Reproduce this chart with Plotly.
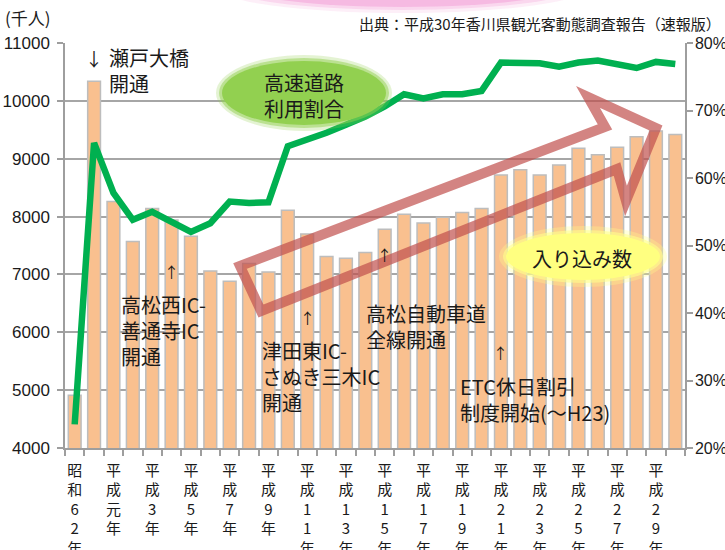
import plotly.graph_objects as go

# ---------------- data ----------------
years = ["昭和62年", "昭和63年", "平成元年", "平成2年", "平成3年", "平成4年", "平成5年", "平成6年",
         "平成7年", "平成8年", "平成9年", "平成10年", "平成11年", "平成12年", "平成13年", "平成14年",
         "平成15年", "平成16年", "平成17年", "平成18年", "平成19年", "平成20年", "平成21年", "平成22年",
         "平成23年", "平成24年", "平成25年", "平成26年", "平成27年", "平成28年", "平成29年", "平成30年"]
visitors = [4910, 10340, 8260, 7570, 8140, 7940, 7660, 7060,
            6880, 7190, 7040, 8110, 7700, 7310, 7280, 7380,
            7780, 8040, 7890, 7990, 8070, 8140, 8720, 8810,
            8720, 8890, 9180, 9070, 9200, 9380, 9480, 9420]
highway_ratio = [23.5, 65.2, 57.8, 53.8, 55.0, 53.6, 52.0, 53.3,
                 56.5, 56.3, 56.4, 64.7, 65.6, 66.7, 67.9, 69.1,
                 70.6, 72.4, 71.8, 72.4, 72.4, 72.9, 77.1, 77.1,
                 77.0, 76.5, 77.1, 77.4, 76.9, 76.3, 77.2, 76.9]
y_left_ticks = [4000, 5000, 6000, 7000, 8000, 9000, 10000, 11000]
y_right_ticks = [20, 30, 40, 50, 60, 70, 80]
y_right_labels = [f"{v}%" for v in y_right_ticks]

idx = list(range(len(years)))
tick_idx = idx[::2][:16]
tick_text = ["<br>".join(list(years[i])) for i in tick_idx]

# ---------------- geometry helpers (layout decoration only) ----------------
L, R, T, B = 65, 685, 43, 448
W, H = R - L, B - T


def px(x):
    return (x - L) / W


def py(y):
    return (B - y) / H


JP = "Noto Sans CJK JP"
NUM = "Liberation Sans, Arial"

fig = go.Figure()
fig.add_trace(go.Bar(
    x=idx, y=visitors, yaxis="y",
    marker=dict(color="#F9C08F", line=dict(color="#BDBDBD", width=1.5)),
    width=0.66, name="入り込み数", showlegend=False,
))
fig.add_trace(go.Scatter(
    x=idx, y=highway_ratio, yaxis="y2", mode="lines",
    line=dict(color="#00B050", width=6.5), name="高速道路利用割合", showlegend=False,
))

shapes = []
# pink glow at the top
for dx, dy, op in [(20, 6, 0.12), (12, 3, 0.2), (4, 0, 0.3)]:
    shapes.append(dict(type="circle", xref="paper", yref="paper", layer="above",
                       x0=px(235 - dx), x1=px(570 + dx), y0=py(7 + dy), y1=py(-40),
                       fillcolor=f"rgba(240,120,200,{op})", line=dict(width=0)))
# green ellipse
for d, col in [(6, "rgba(146,208,80,0.25)"), (3, "rgba(146,208,80,0.5)"), (0, "rgb(146,208,80)")]:
    shapes.append(dict(type="circle", xref="paper", yref="paper", layer="above",
                       x0=px(222 - d), x1=px(386 + d), y0=py(125 + d), y1=py(61 - d),
                       fillcolor=col, line=dict(width=0)))
# yellow ellipse
for d, col in [(7, "rgba(255,255,140,0.3)"), (3, "rgba(255,255,140,0.6)"), (0, "rgb(255,255,128)")]:
    shapes.append(dict(type="circle", xref="paper", yref="paper", layer="above",
                       x0=px(506 - d), x1=px(660 + d), y0=py(280 + d), y1=py(233 - d),
                       fillcolor=col, line=dict(width=0)))
# big hollow arrow
pts = [(240, 266), (605, 127), (588, 97), (656, 128), (626, 201), (617, 169), (261, 311)]
path = "M " + " L ".join(f"{px(x):.5f},{py(y):.5f}" for x, y in pts) + " Z"
shapes.append(dict(type="path", xref="paper", yref="paper", layer="above", path=path,
                   line=dict(color="rgba(192,80,77,0.7)", width=10), fillcolor="rgba(0,0,0,0)"))

ann = []


def txt(text, x, y, size=20, xanchor="left", xref="paper", yref="paper", font=JP, color="#1a1a1a"):
    ann.append(dict(text=text, x=x, y=y, xref=xref, yref=yref, xanchor=xanchor, yanchor="middle",
                    showarrow=False, align="left", borderpad=0,
                    font=dict(family=font, size=size, color=color)))


txt("(千人)", px(4), py(18), size=17)
txt("出典：平成30年香川県観光客動態調査報告（速報版）", px(722), py(23), size=15, xanchor="right")
txt("↓", 1, py(58), size=18, xanchor="center", xref="x")
txt("瀬戸大橋<br>開通", px(108), py(70.5))
txt("高速道路<br>利用割合", px(304), py(95), xanchor="center")
txt("入り込み数", px(582), py(258), xanchor="center")
txt("↑", 5, py(271), size=15, xanchor="center", xref="x")
txt("高松西IC-<br>善通寺IC<br>開通", px(120), py(330))
txt("↑", 12, py(317), size=15, xanchor="center", xref="x")
txt("津田東IC-<br>さぬき三木IC<br>開通", px(261), py(376))
txt("↑", 16, py(254), size=15, xanchor="center", xref="x")
txt("高松自動車道<br>全線開通", px(365), py(326))
txt("↑", 22, py(352), size=15, xanchor="center", xref="x")
txt("ETC休日割引<br>制度開始(〜H23)", px(459), py(399))

fig.update_layout(
    width=725, height=550,
    margin=dict(l=L, r=725 - R, t=T, b=550 - B),
    paper_bgcolor="white", plot_bgcolor="white",
    font=dict(family=JP, color="#1a1a1a"),
    bargap=0.34,
    xaxis=dict(
        range=[-0.5, len(years) - 0.5], tickmode="array", tickvals=tick_idx, ticktext=tick_text,
        ticks="", showgrid=False, zeroline=False, showline=True, linecolor="#9E9E9E", linewidth=1.5,
        tickfont=dict(family=JP, size=15, color="#1a1a1a"), tickangle=0, ticklabelstandoff=8,
        automargin=False,
        minor=dict(ticks="outside", tick0=-0.5, dtick=1, ticklen=6, tickcolor="#9E9E9E", tickwidth=1.5,
                   showgrid=False),
    ),
    yaxis=dict(
        range=[4000, 11000], tickmode="array", tickvals=y_left_ticks, tickformat="d",
        showgrid=True, gridcolor="#A6A6A6", gridwidth=1.5, zeroline=False,
        showline=True, linecolor="#9E9E9E", linewidth=1.5, automargin=False,
        ticks="outside", ticklen=6, tickcolor="#9E9E9E", tickwidth=1.5,
        tickfont=dict(family=NUM, size=17, color="#1a1a1a"), ticklabelstandoff=4,
    ),
    yaxis2=dict(
        range=[20, 80], tickmode="array", tickvals=y_right_ticks, ticktext=y_right_labels,
        overlaying="y", side="right", showgrid=False, zeroline=False,
        showline=True, linecolor="#9E9E9E", linewidth=1.5, automargin=False,
        ticks="outside", ticklen=6, tickcolor="#9E9E9E", tickwidth=1.5,
        tickfont=dict(family=NUM, size=16, color="#1a1a1a"), ticklabelstandoff=-1,
    ),
    shapes=shapes, annotations=ann,
)

fig.write_html("out.html", config={"displayModeBar": False},
               post_script="document.body.style.margin='0';")
